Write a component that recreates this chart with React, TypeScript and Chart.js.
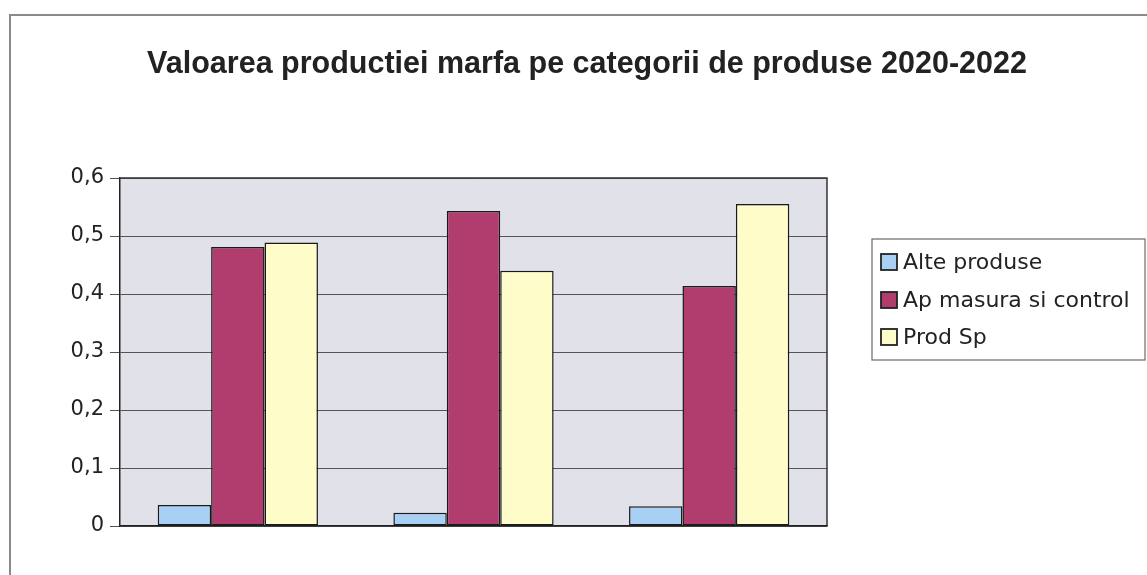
import React, { useEffect, useRef } from "react";
import { Chart, registerables } from "chart.js";

Chart.register(...registerables);

const TITLE = "Valoarea productiei marfa pe categorii de produse 2020-2022";
const categories = ["2020", "2021", "2022"];
const seriesNames = ["Alte produse", "Ap masura si control", "Prod Sp"];
const alteProduse = [0.036, 0.023, 0.034];
const apMasura = [0.481, 0.543, 0.414];
const prodSp = [0.489, 0.44, 0.555];
const yTicks = [0, 0.1, 0.2, 0.3, 0.4, 0.5, 0.6];

const COLORS = ["#a8cff4", "#b03d6d", "#fefdc9"];
const FONT = "'DejaVu Sans', sans-serif";

const framePlugin = {
  id: "framePlugin",
  beforeDraw(chart: any) {
    const { ctx, chartArea: a } = chart;
    ctx.save();
    ctx.fillStyle = "#ffffff";
    ctx.fillRect(0, 0, chart.width, chart.height);
    // outer frame
    ctx.strokeStyle = "#8a8a8a";
    ctx.lineWidth = 2;
    ctx.beginPath();
    ctx.moveTo(10, chart.height);
    ctx.lineTo(10, 15);
    ctx.lineTo(chart.width, 15);
    ctx.stroke();
    // plot background
    ctx.fillStyle = "#e1e1ea";
    ctx.fillRect(a.left, a.top, a.right - a.left, a.bottom - a.top);
    // title
    ctx.fillStyle = "#222222";
    ctx.font = "bold 30.5px 'Liberation Sans', Arial, sans-serif";
    ctx.textAlign = "center";
    ctx.textBaseline = "alphabetic";
    ctx.fillText(TITLE, 587, 73);
    ctx.restore();
  },
  beforeDatasetsDraw(chart: any) {
    const { ctx, chartArea: a } = chart;
    ctx.save();
    ctx.strokeStyle = "#333333";
    ctx.lineWidth = 1.5;
    ctx.beginPath();
    ctx.moveTo(a.left, a.top);
    ctx.lineTo(a.right, a.top);
    ctx.lineTo(a.right, a.bottom);
    ctx.stroke();
    ctx.restore();
  },
  afterDraw(chart: any) {
    const { ctx } = chart;
    ctx.save();
    const bx = 872, by = 239, bw = 273, bh = 121;
    ctx.fillStyle = "#ffffff";
    ctx.fillRect(bx, by, bw, bh);
    ctx.strokeStyle = "#6a6a6a";
    ctx.lineWidth = 1.2;
    ctx.strokeRect(bx, by, bw, bh);
    const ys = [262, 300, 337];
    chart.data.datasets.forEach((ds: any, i: number) => {
      const y = ys[i];
      ctx.fillStyle = ds.backgroundColor;
      ctx.fillRect(881, y - 8, 16, 16);
      ctx.strokeStyle = "#222222";
      ctx.lineWidth = 1.8;
      ctx.strokeRect(881, y - 8, 16, 16);
      ctx.fillStyle = "#222222";
      ctx.font = `22px ${FONT}`;
      ctx.textAlign = "left";
      ctx.textBaseline = "middle";
      ctx.fillText(ds.label, 903, y + 1);
    });
    ctx.restore();
  },
};

export default function App() {
  const canvasRef = useRef<HTMLCanvasElement | null>(null);

  useEffect(() => {
    if (!canvasRef.current) return;
    const chart = new Chart(canvasRef.current, {
      type: "bar",
      data: {
        labels: categories,
        datasets: [
          { label: seriesNames[0], data: alteProduse, backgroundColor: COLORS[0] },
          { label: seriesNames[1], data: apMasura, backgroundColor: COLORS[1] },
          { label: seriesNames[2], data: prodSp, backgroundColor: COLORS[2] },
        ],
      },
      options: {
        responsive: false,
        animation: false,
        maintainAspectRatio: false,
        layout: { padding: { left: 0, right: 320, top: 178, bottom: 49 } },
        datasets: {
          bar: {
            categoryPercentage: 0.68,
            barPercentage: 1,
            borderColor: "#1a1a1a",
            borderWidth: 1.5,
            borderSkipped: false,
          },
        },
        plugins: {
          legend: { display: false },
          title: { display: false },
          tooltip: { enabled: false },
        },
        scales: {
          x: {
            ticks: { display: false },
            grid: { display: false, drawTicks: false },
            border: { display: true, color: "#222222", width: 1.5 },
            afterFit: (scale: any) => {
              scale.height = 0;
            },
          },
          y: {
            min: 0,
            max: 0.6,
            afterBuildTicks: (scale: any) => {
              scale.ticks = yTicks.map((v) => ({ value: v }));
            },
            ticks: {
              color: "#222222",
              font: { family: FONT, size: 21 },
              padding: 6,
              callback: (v: any) => (Number(v) === 0 ? "0" : Number(v).toFixed(1).replace(".", ",")),
            },
            grid: { color: "#555555", lineWidth: 1, tickLength: 10, drawTicks: true },
            border: { display: true, color: "#222222", width: 1.5 },
            afterFit: (scale: any) => {
              scale.width = 120;
            },
          },
        },
      },
      plugins: [framePlugin],
    });
    return () => chart.destroy();
  }, []);

  return (
    <div style={{ position: "absolute", left: 0, top: 0, width: 1147, height: 575, background: "#fff" }}>
      <canvas ref={canvasRef} width={1147} height={575} />
    </div>
  );
}
